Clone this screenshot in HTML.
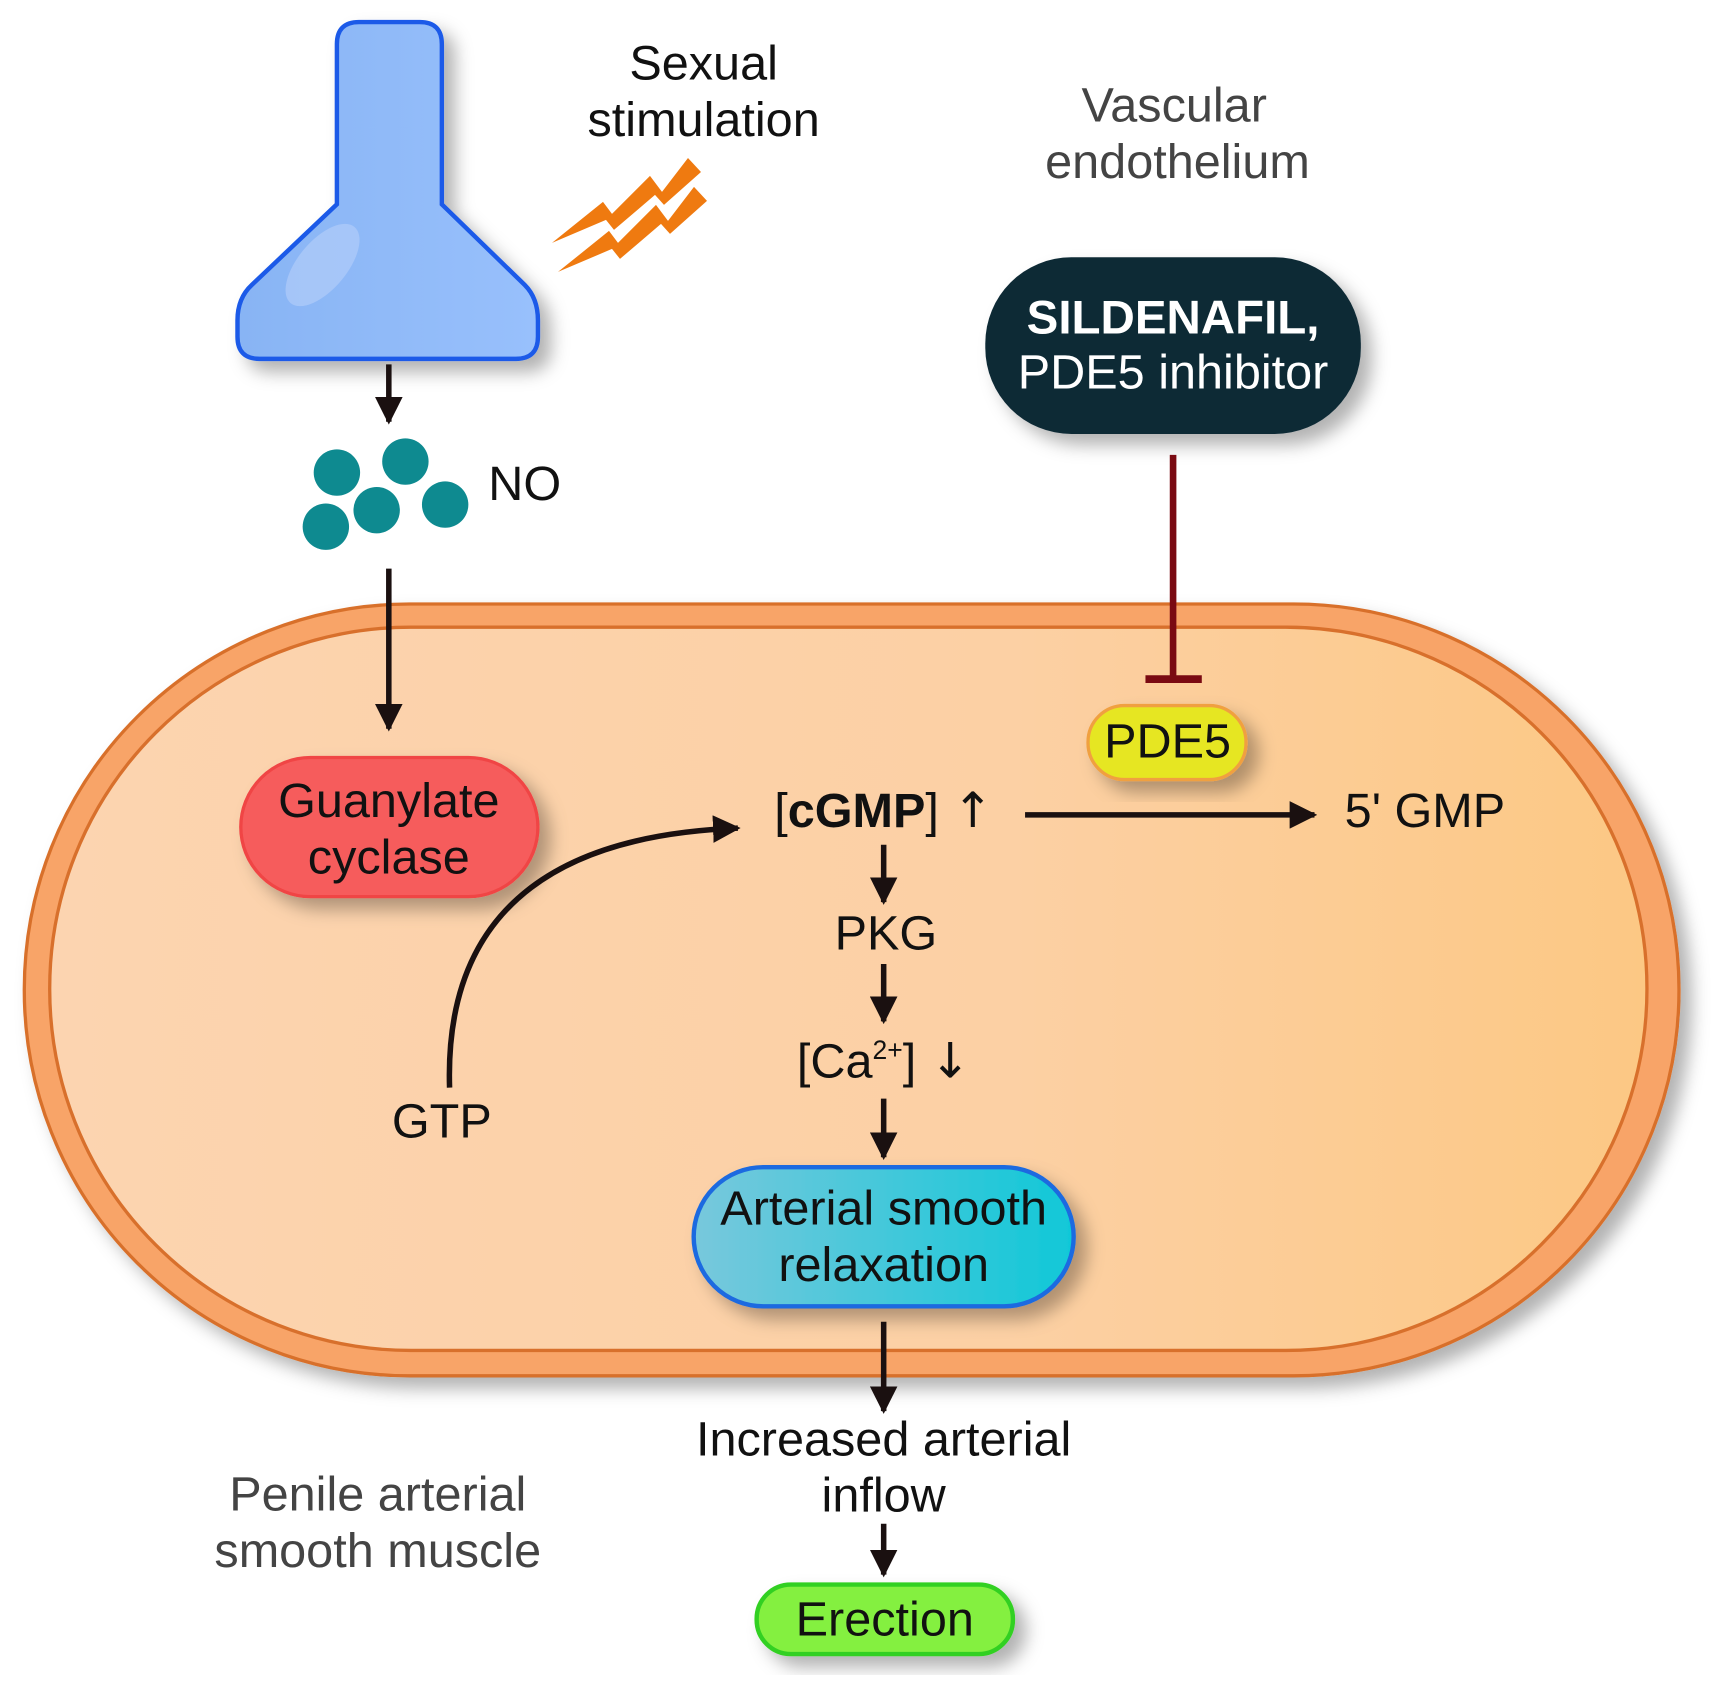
<!DOCTYPE html>
<html><head><meta charset="utf-8"><style>
html,body{margin:0;padding:0;background:#fff;}
svg{display:block;}
text{font-family:"Liberation Sans",sans-serif;}
</style></head><body>
<svg width="1732" height="1706" viewBox="0 0 1568 1545" preserveAspectRatio="none" xmlns="http://www.w3.org/2000/svg">
<defs>
<linearGradient id="cell" x1="0" x2="1" y1="0" y2="0">
<stop offset="0" stop-color="#fcd4b0"/><stop offset="0.6" stop-color="#fcd0a4"/><stop offset="1" stop-color="#fcc884"/></linearGradient>
<linearGradient id="asr" x1="0" x2="1"><stop offset="0" stop-color="#78c8dc"/><stop offset="1" stop-color="#10c8d8"/></linearGradient>
<linearGradient id="flask" x1="0" x2="1"><stop offset="0" stop-color="#88b4f4"/><stop offset="1" stop-color="#98c0fc"/></linearGradient>
<filter id="sh" x="-20%" y="-20%" width="150%" height="150%"><feDropShadow dx="10" dy="10" stdDeviation="8" flood-color="#000" flood-opacity="0.3"/></filter>
<marker id="ah" viewBox="0 0 10 10" refX="9" refY="5" markerWidth="5" markerHeight="5" orient="auto"><path d="M0,0 L10,5 L0,10 z" fill="#1a1010"/></marker>
</defs>

<rect x="22" y="547" width="1498" height="699" rx="349" fill="#f8a468" stroke="#d8702c" stroke-width="3" filter="url(#sh)"/>
<rect x="45" y="568" width="1446" height="655" rx="327" fill="url(#cell)" stroke="#d8702c" stroke-width="3"/>

<path d="M325,20 L380,20 Q400,20 400,40 L400,185 L475,258 Q487,270 487,290 L487,305 Q487,325 467,325 L235,325 Q215,325 215,305 L215,290 Q215,270 228,258 L305,185 L305,40 Q305,20 325,20 Z" fill="url(#flask)" stroke="#1a5ae8" stroke-width="4" filter="url(#sh)"/>
<ellipse cx="292" cy="240" rx="22" ry="45" transform="rotate(40 292 240)" fill="#b0ccfa" opacity="0.7"/>

<g transform="scale(0.9053)" fill="#ef7a10">
<polygon points="552,243 603,202 612,214 650,176 662,192 688,158 701,172 664,205 655,195 614,230 606,220"/>
<polygon points="558,272 609,231 618,243 656,205 668,221 694,187 707,201 670,234 661,224 620,259 612,249"/>
</g>

<g font-size="44">
<text x="637" y="72" text-anchor="middle" fill="#111">Sexual</text>
<text x="637" y="123" text-anchor="middle" fill="#111">stimulation</text>
<text x="1063" y="110" text-anchor="middle" fill="#444">Vascular</text>
<text x="1066" y="161" text-anchor="middle" fill="#444">endothelium</text>
</g>

<g stroke="#1a1010" stroke-width="5" fill="none" marker-end="url(#ah)">
<line x1="352" y1="330" x2="352" y2="382"/>
<line x1="352" y1="515" x2="352" y2="660"/>
<line x1="928" y1="738" x2="1190" y2="738"/>
<line x1="800" y1="765" x2="800" y2="817"/>
<line x1="800" y1="873" x2="800" y2="925"/>
<line x1="800" y1="995" x2="800" y2="1048"/>
<line x1="800" y1="1197" x2="800" y2="1278"/>
<line x1="800" y1="1380" x2="800" y2="1426"/>
<path d="M407,985 Q400,760 668,750"/>
</g>

<g fill="#0e8a90">
<circle cx="305" cy="428" r="21"/><circle cx="367" cy="418" r="21"/><circle cx="341" cy="462" r="21"/><circle cx="403" cy="457" r="21"/><circle cx="295" cy="477" r="21"/>
</g>
<text x="442" y="453" font-size="44" fill="#111">NO</text>

<rect x="892" y="233" width="340" height="160" rx="78" fill="#0e2a36" filter="url(#sh)"/>
<text x="1062" y="302" font-size="43" font-weight="bold" text-anchor="middle" fill="#fff">SILDENAFIL,</text>
<text x="1062" y="352" font-size="44" text-anchor="middle" fill="#fff">PDE5 inhibitor</text>
<line x1="1062" y1="412" x2="1062" y2="615" stroke="#7a0a12" stroke-width="6"/>
<line x1="1037" y1="615" x2="1088" y2="615" stroke="#7a0a12" stroke-width="7"/>

<rect x="985" y="639" width="143" height="67" rx="33" fill="#e6e620" stroke="#f0a040" stroke-width="3" filter="url(#sh)"/>
<text x="1057" y="686" font-size="44" text-anchor="middle" fill="#111">PDE5</text>

<rect x="218" y="686" width="269" height="126" rx="63" fill="#f65c5c" stroke="#f04444" stroke-width="3" filter="url(#sh)"/>
<text x="352" y="740" font-size="44" text-anchor="middle" fill="#111">Guanylate</text>
<text x="352" y="791" font-size="44" text-anchor="middle" fill="#111">cyclase</text>

<text x="800" y="749" font-size="44" text-anchor="middle" fill="#111">[<tspan font-weight="bold">cGMP</tspan>] <tspan font-family="DejaVu Sans">↑</tspan></text>
<text x="1290" y="749" font-size="44" text-anchor="middle" fill="#111">5' GMP</text>
<text x="802" y="860" font-size="44" text-anchor="middle" fill="#111">PKG</text>
<text x="800" y="976" font-size="44" text-anchor="middle" fill="#111">[Ca<tspan font-size="24" dy="-17">2+</tspan><tspan dy="17">] </tspan><tspan font-family="DejaVu Sans">↓</tspan></text>
<text x="400" y="1030" font-size="44" text-anchor="middle" fill="#111">GTP</text>

<rect x="628" y="1057" width="344" height="126" rx="63" fill="url(#asr)" stroke="#1a6ae0" stroke-width="4" filter="url(#sh)"/>
<text x="800" y="1109" font-size="44" text-anchor="middle" fill="#111">Arterial smooth</text>
<text x="800" y="1160" font-size="44" text-anchor="middle" fill="#111">relaxation</text>

<text x="800" y="1318" font-size="44" text-anchor="middle" fill="#111">Increased arterial</text>
<text x="800" y="1369" font-size="44" text-anchor="middle" fill="#111">inflow</text>

<rect x="685" y="1435" width="232" height="63" rx="31" fill="#84f040" stroke="#30d020" stroke-width="4" filter="url(#sh)"/>
<text x="801" y="1481" font-size="44" text-anchor="middle" fill="#111">Erection</text>

<text x="342" y="1368" font-size="44" text-anchor="middle" fill="#444">Penile arterial</text>
<text x="342" y="1419" font-size="44" text-anchor="middle" fill="#444">smooth muscle</text>
</svg>
</body></html>
